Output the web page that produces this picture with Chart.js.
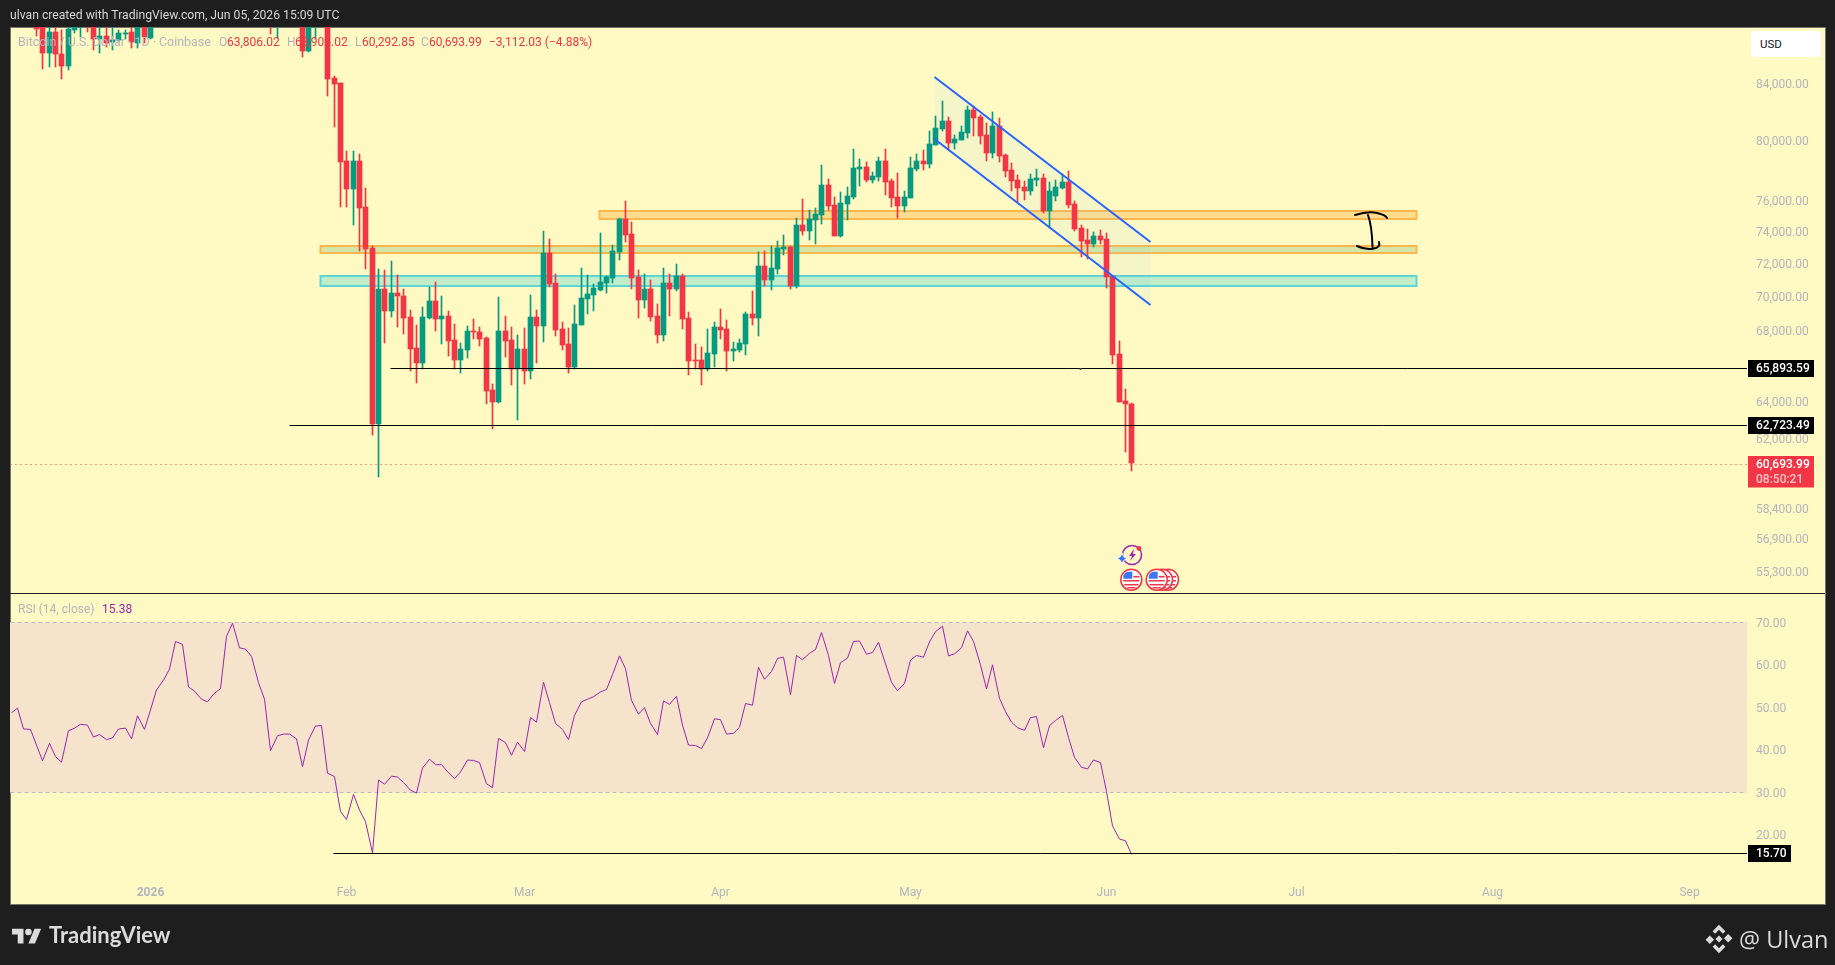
<!DOCTYPE html>
<html>
<head>
<meta charset="utf-8">
<title>BTCUSD</title>
<script src="https://cdn.jsdelivr.net/npm/chart.js@4"></script>
<style>
    html, body { margin: 0; padding: 0; width: 1835px; height: 965px; overflow: hidden; background: #1e1e1e; font-family: Roboto, sans-serif; }
    #panel { position: absolute; left: 10px; top: 27px; width: 1816px; height: 878px; box-sizing: border-box; background: #fff9c4; border: 1px solid #74746a; }
    #chart { position: absolute; left: 0; top: 0; }
    #divider { position: absolute; left: 10px; top: 593px; width: 1815px; height: 1px; background: #1e1e1e; }
    .txt { position: absolute; white-space: nowrap; font-size: 12px; line-height: 14px; }
    .grey { color: #b2b5be; }
    .red { color: #f23645; }
    #usd { position: absolute; left: 1751px; top: 31px; width: 61px; height: 26px; padding-left: 9px; line-height: 26px; font-size: 11.5px; color: #131722; background: #fff; border-radius: 4px; }
    svg.over { position: absolute; left: 0; top: 0; }
</style>
</head>
<body>
<div id="panel"></div>
<canvas id="chart" width="1835" height="965"></canvas>
<div id="divider"></div>

<div class="txt" style="left:10px;top:8px;color:#d6d6d6;font-size:12.2px">ulvan created with TradingView.com, Jun 05, 2026 15:09 UTC</div>

<div class="txt grey" style="left:18px;top:35px;font-size:12.45px">Bitcoin / U.S. Dollar · 1D · Coinbase</div>
<div class="txt grey" style="left:219px;top:35px">O</div><div class="txt red" style="left:227px;top:35px">63,806.02</div>
<div class="txt grey" style="left:287px;top:35px">H</div><div class="txt red" style="left:295px;top:35px">63,906.02</div>
<div class="txt grey" style="left:355px;top:35px">L</div><div class="txt red" style="left:362px;top:35px">60,292.85</div>
<div class="txt grey" style="left:421px;top:35px">C</div><div class="txt red" style="left:429px;top:35px">60,693.99</div>
<div class="txt red" style="left:489px;top:35px">−3,112.03 (−4.88%)</div>

<div class="txt grey" style="left:18px;top:602px">RSI (14, close)</div>
<div class="txt" style="left:102px;top:602px;color:#9c27b0">15.38</div>

<div id="usd">USD</div>

<svg class="over" width="1835" height="965" viewBox="0 0 1835 965">
    <defs>
        <g id="flag">
            <circle r="10.5" fill="#fff" stroke="#f23645" stroke-width="1.5"/>
            <path d="M-8 1h16M-7 5h14M-4 8h8" stroke="#f23645" stroke-width="1.6" fill="none"/>
            <path d="M-8 -1v-3a7 7 0 0 1 4 -4h5v7z" fill="#3d78f0"/>
            <path d="M2 -3h6" stroke="#f23645" stroke-width="1.6"/>
        </g>
    </defs>
    <!-- hand drawn mark between the two orange zones -->
    <path d="M1355 215 Q1368 211 1377 213 T1387 218 M1368 215 Q1372 226 1372.5 247 M1357 246 Q1365 250 1373 248.7 T1379 242" fill="none" stroke="#000" stroke-width="2" stroke-linecap="round"/>
    <!-- event icons -->
    <circle cx="1132" cy="555" r="9.5" fill="none" stroke="#9c27b0" stroke-width="1.6"/>
    <path d="M1134 549l-5 7h3l-2 5 6 -7h-3z" fill="#9c27b0"/>
    <circle cx="1139" cy="548.5" r="2.4" fill="#f23645"/>
    <path d="M1122 553q1 4.500 5 5.500q-4 1 -5 5.500q-1 -4.500 -5 -5.500q4 -1 5 -5.500z" fill="#3d78f0" stroke="#fff" stroke-width="1"/>
    <use href="#flag" x="1168" y="579.7"/>
    <use href="#flag" x="1162" y="579.7"/>
    <use href="#flag" x="1156.7" y="579.7"/>
    <use href="#flag" x="1131.3" y="579.7"/>
    <!-- footer logos -->
    <g transform="translate(12 925.5) scale(.82)" fill="#dcdcdc">
        <path d="M14 22H7V11H0V4h14v18zM28 22h-8l7.500-18h8L28 22z"/>
        <circle cx="20" cy="8" r="4"/>
    </g>
    <g transform="translate(1719 939) rotate(45)" fill="#dcdcdc">
        <rect x="-2.500" y="-2.500" width="5" height="5"/>
        <path d="M-10 -10h9v3.500h-5.500v5.500h-3.500zM10 10h-9v-3.500h5.500v-5.500h3.500z"/>
        <rect x="3" y="-10" width="6" height="6"/>
        <rect x="-9" y="4" width="6" height="6"/>
    </g>
</svg>

<div class="txt" style="left:49px;top:922px;font-family:Lato,sans-serif;font-weight:700;font-size:22px;line-height:26px;color:#dcdcdc">TradingView</div>
<div class="txt" style="left:1739px;top:922px;font-family:'Open Sans',sans-serif;font-size:23.5px;line-height:34px;color:#dcdcdc">@ Ulvan</div>

<script>
// days are counted from 1 Jan 2026, candles start at day -18
const firstDay = -18;

const opens = [
    88800, 88400, 86220, 87790, 86140, 85270, 87960, 89000, 89800, 89600, 87260, 87490, 87040, 87190, 87640, 87790, 86960, 88600, 87340,
    null, null, null, null, null, null, null, null, null, null, null, null, null, null, null, null, null, null,
    90000, 89500, null, null, null, 88800, 86380, 89000, null, 89000, 84390, 84030, 78600, 76740, 78600, 75560,
    72960, 62720, 70440, 69130, 70200, 70020, 68770, 66970, 66110, 68710, 69720, 68650, 68830, 67430, 66280,
    66850, 67950, 67890, 67540, 64600, 63940, 67950, 67430, 65770, 66910, 65660, 68770, 68240, 72650, 70800,
    68070, 67200, 65890, 68300, 69840, 70080, 70380, 70800, 71110, 72710, 74790, 73840, 71170, 69780, 70440,
    68830, 67720, 70800, 70440, 71230, 68710, 66280, 66280, 65770, 66620, 68190, 68070, 66800, 66850, 67200,
    68950, 68710, 71840, 70980, 71660, 72890, 73020, 70620, 74410, 74030, 74730, 75050, 77000, 75690, 73710,
    75760, 76210, 78060, 78200, 77330, 77530, 78600, 77260, 76210, 75630, 76150, 78060, 78600, 78400, 79690,
    80790, 81340, 79820, 80030, 80510, 82110, 81620, 80370, 79140, 80990, 79010, 78000, 77330, 76870, 76610,
    77330, 77460, 75310, 76280, 76800, 77200, 75760, 74220, 73460, 73210, 73710, 73520, 71230, 66620, 63990, 63806.02
];
const highs = [
    89200, 89000, 88500, 88600, 87900, 88500, 89300, 90000, 90100, 89900, 88300, 88300, 88200, 87930, 87930, 88300, 89000, 88900, 88900,
    null, null, null, null, null, null, null, null, null, null, null, null, null, null, null, null, null, null,
    90500, 90500, null, null, null, 89200, 89200, 90000, null, 89800, 84540, 84030, 79280, 79280, 79070, 76800,
    73080, 71660, 71600, 72150, 71290, 70440, 69190, 68300, 69360, 70560, 70860, 70020, 69130, 68360, 67260,
    68240, 68650, 68190, 67600, 64930, 69960, 68830, 68190, 67720, 68130, 70080, 69190, 74030, 73520, 71350,
    68480, 68130, 69480, 71720, 71290, 70740, 73900, 71230, 73140, 74860, 75950, 74600, 71600, 71350, 70980,
    69540, 71720, 71350, 71960, 71350, 69070, 67200, 67030, 68070, 68480, 69240, 68590, 67310, 67490, 69070,
    70320, 72710, 72770, 73080, 73390, 73770, 73080, 74860, 76080, 75370, 75500, 78330, 77400, 76210, 76540,
    76870, 79410, 78730, 78530, 77860, 78870, 79410, 77400, 77800, 76610, 78870, 79070, 79350, 80650, 81690,
    82740, 81620, 80370, 80990, 82390, 82390, 81760, 81200, 81970, 81550, 79070, 78460, 77660, 77260, 77730,
    78060, 77730, 77200, 77330, 77730, 77930, 75950, 74410, 74150, 73960, 74090, 73900, 71230, 67370, 64660, 63906.02
];
const lows = [
    87480, 85050, 85190, 85190, 84320, 84970, 87710, 87410, 87790, 86440, 86220, 86660, 86440, 87110, 87260, 86590, 86590, 86960, 87260,
    null, null, null, null, null, null, null, null, null, null, null, null, null, null, null, null, null, null,
    87640, 87340, null, null, null, 85930, 86290, 87290, null, 83110, 80930, 75560, 75560, 74410, 72770, 71660,
    62160, 59980, 67260, 68770, 68190, 67780, 65660, 64990, 65770, 68650, 67950, 67200, 66510, 65770, 65550,
    66400, 67490, 67080, 63830, 62480, 63890, 66450, 64880, 62960, 64930, 65210, 66110, 67310, 70560, 67660,
    66850, 65550, 65770, 68300, 68950, 69130, 70320, 70200, 70800, 72210, 73330, 70440, 68710, 69300, 68540,
    67260, 67370, 68830, 70320, 68070, 65440, 65770, 64880, 65660, 65890, 67490, 65660, 66220, 66740, 66570,
    68300, 67660, 70620, 70380, 71350, 72520, 70440, 70500, 73770, 73460, 73210, 74470, 75370, 73710, 73650,
    74730, 76080, 76940, 77200, 77130, 77260, 76340, 75560, 74860, 75240, 76150, 77930, 78000, 78130, 79690,
    80650, 79350, 79410, 80030, 80170, 80300, 79760, 78600, 78800, 78530, 77530, 76610, 75890, 76020, 76340,
    76940, 75180, 74220, 75950, 76740, 75500, 74030, 72400, 72270, 73020, 73210, 70500, 66060, 63940, 61260, 60292.85
];
const closes = [
    88030, 86220, 87790, 86140, 85270, 88010, 88900, 89600, 89000, 87260, 87490, 86960, 87190, 87710, 87710, 87040, 88600, 87410, 88500,
    null, null, null, null, null, null, null, null, null, null, null, null, null, null, null, null, null, null,
    89500, 90000, null, null, null, 86380, 88800, 89800, null, 84340, 83960, 78550, 76740, 78600, 75500, 72890,
    62720, 70440, 69130, 70200, 70020, 68710, 66910, 66110, 68770, 69720, 68650, 68830, 67370, 66280, 66910,
    67950, 67890, 67490, 64550, 63940, 67950, 67370, 65770, 66910, 65660, 68770, 68240, 72650, 70740, 68010,
    67140, 65890, 68360, 69900, 70140, 70500, 70860, 71170, 72770, 74790, 73770, 71110, 69780, 70440, 68770,
    67720, 70800, 70440, 71230, 68650, 66220, 66220, 65770, 66680, 68190, 68010, 66800, 66910, 67260, 68950,
    68710, 71840, 70980, 71720, 72960, 73020, 70620, 74410, 74030, 74790, 75110, 77000, 75630, 73710, 75820,
    76280, 78130, 78200, 77330, 77600, 78600, 77200, 76150, 75630, 76210, 78130, 78600, 78400, 79760, 80850,
    81340, 79820, 80100, 80580, 82110, 81550, 80300, 79140, 80990, 78940, 77930, 77260, 76800, 76610, 77400,
    77460, 75310, 76610, 76870, 77200, 75690, 74150, 73390, 73210, 73710, 73460, 71170, 66570, 63940, 63806, 60693.99
];

// RSI starts at day -22, the left edge of the pane
const rsiFirstDay = -22;
const rsiValues = [
    48.7, 49.8, 44.9, 44.8, 41.1, 37.4, 41.5, 38.4, 37.1, 44.5, 45.1, 46.0, 45.8, 43.0, 43.6, 42.4, 42.8, 44.9, 45.1, 42.6, 48.0, 44.8,
    49.4, 54.1, 56.4, 59.0, 65.5, 64.8, 54.8, 53.8, 51.9, 51.3, 53.1, 54.4, 66.7, 69.8, 64.0, 63.7, 62.0, 55.8, 51.9,
    39.8, 43.3, 43.7, 43.7, 42.6, 36.0, 42.3, 45.6, 45.7, 34.5, 33.7, 25.5, 23.6, 29.5, 25.8, 23.1, 15.7,
    32.9, 31.9, 33.8, 33.6, 32.3, 30.5, 29.8, 35.7, 37.8, 36.5, 36.5, 34.6, 33.2, 34.8, 37.6, 37.5, 37.0, 32.0, 31.1,
    42.7, 41.7, 38.7, 41.8, 39.6, 47.6, 46.5, 55.9, 51.1, 46.2, 44.8, 42.4, 48.1, 51.3, 51.9, 52.5, 53.6, 54.2, 57.7, 62.1,
    59.1, 51.6, 48.4, 49.9, 46.2, 43.6, 51.5, 50.7, 52.6, 45.8, 41.1, 41.0, 40.3, 42.8, 47.3, 47.1, 43.7, 43.9, 45.3, 50.9, 50.5,
    59.4, 56.6, 58.4, 61.5, 61.8, 53.0, 62.2, 61.2, 62.7, 63.6, 67.6, 62.2, 55.6, 60.5, 61.6, 65.5, 65.6, 62.5, 62.9, 65.3,
    60.2, 55.9, 53.9, 55.6, 61.1, 62.2, 61.8, 65.4, 67.8, 69.1, 62.1, 62.6, 64.0, 68.0, 65.5, 60.0, 54.3, 60.0, 52.1, 49.0,
    46.5, 45.2, 44.6, 47.6, 47.8, 40.5, 45.7, 46.9, 48.1, 42.9, 38.2, 35.9, 35.5, 37.6, 37.0, 30.2, 22.1, 19.0, 18.6, 15.38
];

const monthDays = [0, 31, 59, 90, 120, 151, 181, 212, 243];
const monthLabels = ['2026', 'Feb', 'Mar', 'Apr', 'May', 'Jun', 'Jul', 'Aug', 'Sep'];
const priceTicks = [84000, 80000, 76000, 74000, 72000, 70000, 68000, 64000, 62000, 58400, 56900, 55300];
const rsiTicks = [70, 60, 50, 40, 30, 20];

const dayMin = -22.1;
const dayMax = 252.2;

// zones: start day, top price, bottom price
const orangeZoneUpper = [70.9, 75310, 74790];
const orangeZoneLower = [26.9, 73060, 72660];
const tealZone = [26.9, 71230, 70620];
const zoneEndDay = 199.9;

const channelDays = [123.8, 157.9];
const channelUpper = [84480, 73330];
const channelLower = [80100, 69480];

// level lines: start day, value
const supportHigh = [37.9, 65893.59];
const supportLow = [21.9, 62723.49];
const rsiLow = [28.9, 15.7];
const lastPrice = 60693.99;
const supportDotDay = 146.8;

const bullColor = '#089981';
const bearColor = '#f23645';
const axisColor = '#b2b5be';
const axisFont = { family: 'Roboto', size: 12 };

let candles = [];
let wicks = [];
let candleColors = [];
for (let i = 0; i < opens.length; i++) {
    if (opens[i] === null) {
        continue;
    }
    candles.push({ x: firstDay + i, y: [opens[i], closes[i]] });
    wicks.push({ x: firstDay + i, y: [lows[i], highs[i]] });
    candleColors.push(closes[i] >= opens[i] ? bullColor : bearColor);
}

let rsiPoints = [];
rsiValues.forEach((v, i) => rsiPoints.push({ x: rsiFirstDay + i, y: v }));

function formatPrice(v) {
    return v.toLocaleString('en-US', { minimumFractionDigits: 2, maximumFractionDigits: 2 });
}

// keeps the candles on whole pixels, like the original
function snapX(scale) {
    const base = Object.getPrototypeOf(scale).getPixelForValue;
    scale.getPixelForValue = v => Math.round(base.call(scale, v)) + 0.5;
}
function snapY(scale) {
    const base = Object.getPrototypeOf(scale).getPixelForValue;
    scale.getPixelForValue = v => Math.round(base.call(scale, v));
    nudgeLabels(scale, 2);
}
// tick text sits a little below the canvas middle baseline in the original
function nudgeLabels(scale, px) {
    const base = Object.getPrototypeOf(Object.getPrototypeOf(scale)).getPixelForTick;
    scale.getPixelForTick = i => base.call(scale, i) + px;
}

// level lines and their badges sit one row under the candle scale
function levelY(scale, value) {
    return Math.round(scale.getPixelForValue(value)) + (scale.axis === 'y' && scale.id === 'y' ? 1.5 : 0.5);
}

function zoneRect(ctx, c, zone, border, fill) {
    const x = c.scales.x;
    const y = c.scales.y;
    const left = x.getPixelForValue(zone[0]);
    const right = x.getPixelForValue(zoneEndDay);
    const top = y.getPixelForValue(zone[1]);
    const bottom = y.getPixelForValue(zone[2]);
    ctx.fillStyle = fill;
    ctx.fillRect(left, top, right - left, bottom - top);
    ctx.strokeStyle = border;
    ctx.lineWidth = 2;
    ctx.strokeRect(left, top, right - left, bottom - top);
}

function levelLine(ctx, c, scale, from, value, color, dash) {
    const x = c.scales.x;
    const yPos = levelY(scale, value);
    ctx.save();
    ctx.strokeStyle = color;
    ctx.lineWidth = 1;
    ctx.setLineDash(dash);
    ctx.beginPath();
    ctx.moveTo(x.getPixelForValue(from), yPos);
    ctx.lineTo(x.right, yPos);
    ctx.stroke();
    ctx.restore();
}

function badge(ctx, left, right, top, bottom, color, lines) {
    ctx.fillStyle = color;
    ctx.fillRect(left, top, right - left, bottom - top);
    ctx.textBaseline = 'middle';
    ctx.textAlign = 'left';
    ctx.font = '500 12px Roboto';
    lines.forEach(l => {
        ctx.fillStyle = l.color;
        ctx.fillText(l.text, l.x, l.y);
    });
}

const drawingsBelow = {
    id: 'drawingsBelow',
    beforeDatasetsDraw(c) {
        const ctx = c.ctx;
        const x = c.scales.x;
        const y = c.scales.y;
        const rsi = c.scales.rsi;
        ctx.save();

        // RSI band
        ctx.fillStyle = '#f5e3cc';
        ctx.fillRect(x.left, rsi.getPixelForValue(70), x.right - x.left, rsi.getPixelForValue(30) - rsi.getPixelForValue(70));

        zoneRect(ctx, c, orangeZoneUpper, '#ffb74d', 'rgba(255,183,77,0.45)');
        zoneRect(ctx, c, orangeZoneLower, '#ffb74d', 'rgba(76,175,80,0.25)');
        zoneRect(ctx, c, tealZone, '#5dd5d5', 'rgba(80,210,210,0.35)');

        // channel body
        ctx.fillStyle = 'rgba(100,200,255,0.07)';
        ctx.beginPath();
        ctx.moveTo(x.getPixelForValue(channelDays[0]), y.getPixelForValue(channelUpper[0]));
        ctx.lineTo(x.getPixelForValue(channelDays[1]), y.getPixelForValue(channelUpper[1]));
        ctx.lineTo(x.getPixelForValue(channelDays[1]), y.getPixelForValue(channelLower[1]));
        ctx.lineTo(x.getPixelForValue(channelDays[0]), y.getPixelForValue(channelLower[0]));
        ctx.closePath();
        ctx.fill();

        levelLine(ctx, c, rsi, dayMin, 70, '#b8bac4', [4, 3]);
        levelLine(ctx, c, rsi, dayMin, 30, '#b8bac4', [4, 3]);
        ctx.restore();
    }
};

const drawingsAbove = {
    id: 'drawingsAbove',
    afterDatasetsDraw(c) {
        const ctx = c.ctx;
        const x = c.scales.x;
        const y = c.scales.y;
        const rsi = c.scales.rsi;
        ctx.save();

        levelLine(ctx, c, y, supportHigh[0], supportHigh[1], '#000', []);
        levelLine(ctx, c, y, supportLow[0], supportLow[1], '#000', []);
        levelLine(ctx, c, rsi, rsiLow[0], rsiLow[1], '#000', []);
        levelLine(ctx, c, y, dayMin, lastPrice, bearColor, [1, 4]);

        ctx.fillStyle = '#555';
        ctx.fillRect(x.getPixelForValue(supportDotDay) - 1, levelY(y, supportHigh[1]) - 0.5, 2, 2);

        ctx.strokeStyle = '#2962ff';
        ctx.lineWidth = 2;
        [channelUpper, channelLower].forEach(edge => {
            ctx.beginPath();
            ctx.moveTo(x.getPixelForValue(channelDays[0]), y.getPixelForValue(edge[0]));
            ctx.lineTo(x.getPixelForValue(channelDays[1]), y.getPixelForValue(edge[1]));
            ctx.stroke();
        });
        ctx.restore();
    },
    afterDraw(c) {
        const ctx = c.ctx;
        const y = c.scales.y;
        const rsi = c.scales.rsi;
        ctx.save();
        [supportHigh[1], supportLow[1]].forEach(v => {
            const p = levelY(y, v);
            badge(ctx, 1748, 1814, p - 8.500, p + 8.500, '#000', [{ text: formatPrice(v), x: 1756, y: p + 0.5, color: '#fff' }]);
        });
        const p = levelY(y, lastPrice);
        badge(ctx, 1748, 1814, p - 8.500, p + 23, bearColor, [
            { text: formatPrice(lastPrice), x: 1756, y: p + 0.5, color: '#fff' },
            { text: '08:50:21', x: 1756, y: p + 15, color: '#ffc6cb' }
        ]);
        const q = levelY(rsi, rsiLow[1]);
        badge(ctx, 1748, 1791, q - 8.500, q + 8.500, '#000', [{ text: rsiLow[1].toFixed(2), x: 1756, y: q + 0.5, color: '#fff' }]);
        ctx.restore();
    }
};

new Chart(document.getElementById('chart'), {
    type: 'bar',
    data: {
        datasets: [
            {
                data: candles,
                yAxisID: 'y',
                backgroundColor: candleColors,
                barThickness: 5,
                minBarLength: 1,
                grouped: false,
                borderWidth: 0
            },
            {
                data: wicks,
                yAxisID: 'y',
                backgroundColor: candleColors,
                barThickness: 1,
                minBarLength: 1,
                grouped: false,
                borderWidth: 0
            },
            {
                type: 'line',
                data: rsiPoints,
                yAxisID: 'rsi',
                borderColor: '#9c27b0',
                borderWidth: 1,
                pointRadius: 0,
                tension: 0
            }
        ]
    },
    options: {
        responsive: false,
        animation: false,
        events: [],
        layout: { padding: { left: 10, top: 27, right: 10, bottom: 61 } },
        plugins: { legend: { display: false }, tooltip: { enabled: false } },
        scales: {
            x: {
                type: 'linear',
                min: dayMin,
                max: dayMax,
                bounds: 'data',
                offset: false,
                grid: { display: false, drawTicks: false },
                border: { display: false },
                afterBuildTicks: s => { s.ticks = monthDays.map(d => ({ value: d })); },
                afterFit: s => { s.height = 29; },
                afterUpdate: snapX,
                ticks: {
                    color: axisColor,
                    font: ctx => ctx.tick && ctx.tick.value === 0 ? { family: 'Roboto', size: 12, weight: '700' } : axisFont,
                    padding: 11,
                    maxRotation: 0,
                    autoSkip: false,
                    callback: v => monthLabels[monthDays.indexOf(v)]
                }
            },
            y: {
                type: 'logarithmic',
                position: 'right',
                stack: 'panes',
                stackWeight: 566,
                min: 54290,
                max: 88158,
                bounds: 'data',
                grid: { display: false, drawTicks: false },
                border: { display: false },
                afterBuildTicks: s => { s.ticks = priceTicks.map(v => ({ value: v })); },
                afterFit: s => { s.width = 78; },
                afterUpdate: snapY,
                ticks: {
                    color: axisColor,
                    font: axisFont,
                    padding: 9,
                    autoSkip: false,
                    callback: v => formatPrice(v)
                }
            },
            rsi: {
                type: 'linear',
                axis: 'y',
                position: 'right',
                stack: 'panes',
                stackWeight: 282,
                min: 10.54,
                max: 76.9,
                bounds: 'data',
                grid: { display: false, drawTicks: false },
                border: { display: false },
                afterBuildTicks: s => { s.ticks = rsiTicks.map(v => ({ value: v })); },
                afterFit: s => { s.width = 78; },
                afterUpdate: s => nudgeLabels(s, 1.5),
                ticks: {
                    color: axisColor,
                    font: axisFont,
                    padding: 9,
                    autoSkip: false,
                    callback: v => v.toFixed(2)
                }
            }
        }
    },
    plugins: [drawingsBelow, drawingsAbove]
});
</script>
</body>
</html>
